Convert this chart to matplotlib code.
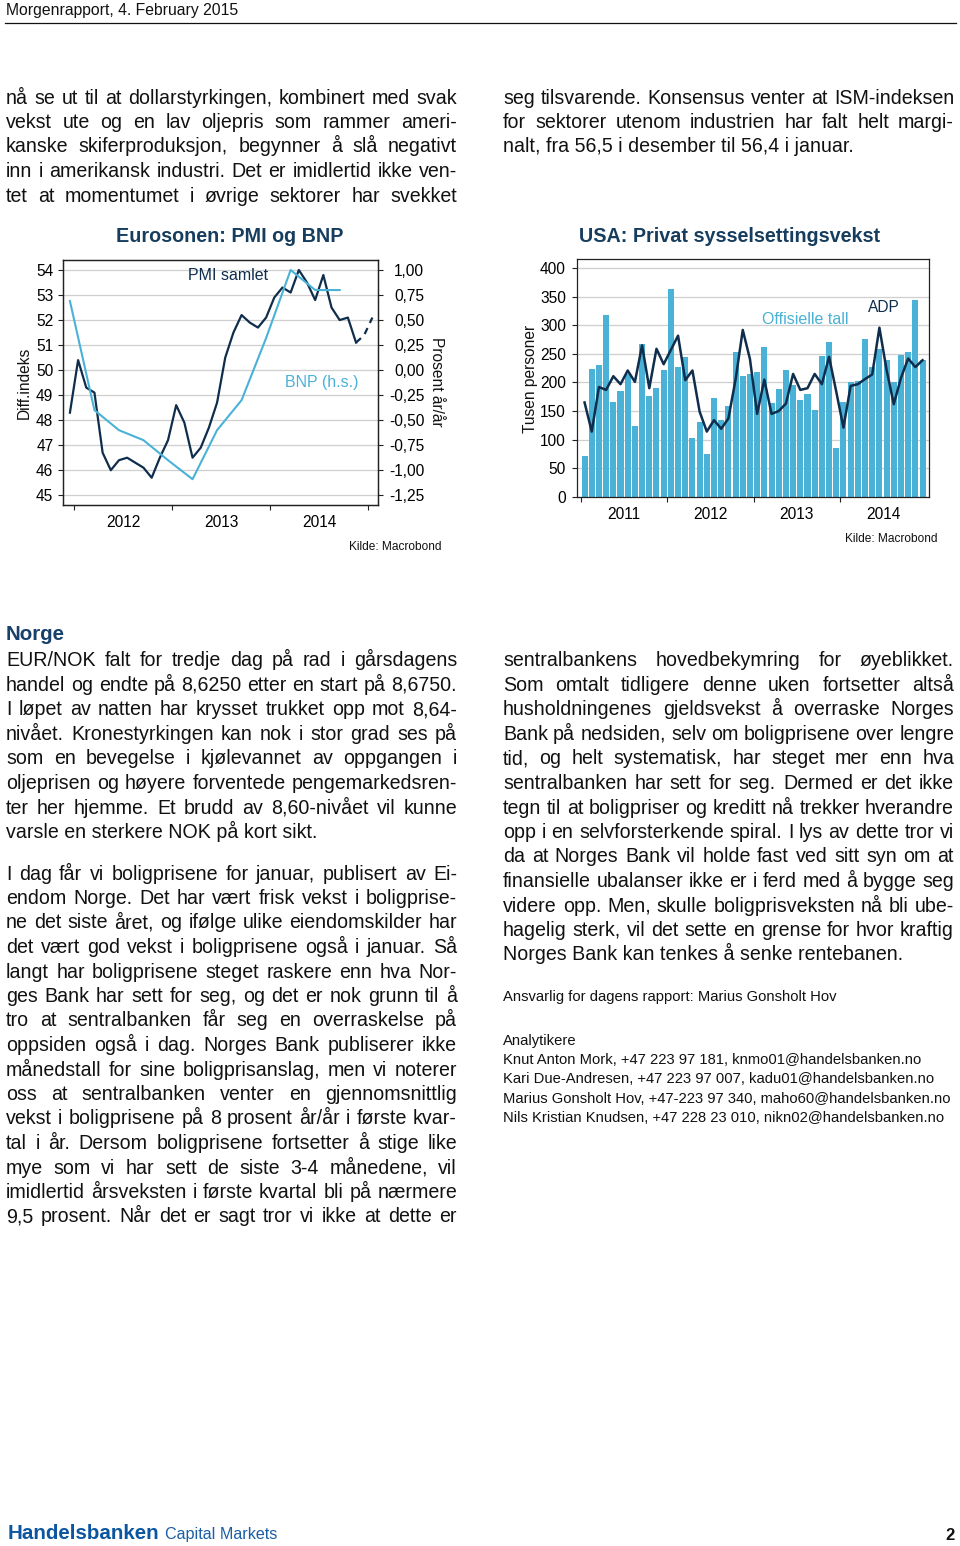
import numpy as np
import matplotlib
matplotlib.use('Agg')
import matplotlib.pyplot as plt
from matplotlib.lines import Line2D

plt.rcParams['font.family'] = ['Liberation Sans', 'DejaVu Sans']

W, H = 960, 1546
NAVY = '#0f2d4c'
LIGHT = '#4ab2d6'
TITLE = '#173d5e'
SPINE = '#222222'
GRID = '#cfcfcf'

# ---------------- data ----------------
# Eurozone composite PMI, monthly Dec 2011 - Nov 2014
pmi_samlet = [48.3, 50.4, 49.3, 49.1, 46.7, 46.0, 46.4, 46.5, 46.3, 46.1, 45.7, 46.5,
              47.2, 48.6, 47.9, 46.5, 46.9, 47.7, 48.7, 50.5, 51.5, 52.2, 51.9, 51.7,
              52.1, 52.9, 53.3, 53.1, 54.0, 53.5, 52.8, 53.8, 52.5, 52.0, 52.1, 51.1]
# preliminary: Dec 2014, Jan 2015 (dashed)
pmi_prelim = [51.4, 52.1]
# Eurozone GDP y/y, quarterly Q4 2011 - Q3 2014 (right axis)
bnp_aar = [0.69, -0.40, -0.60, -0.70, -0.90, -1.09, -0.60, -0.30, 0.32, 1.00, 0.80, 0.80]
euro_years = ['2012', '2013', '2014']
euro_left_ticks = [45, 46, 47, 48, 49, 50, 51, 52, 53, 54]
euro_right_ticks = [-1.25, -1.00, -0.75, -0.50, -0.25, 0.00, 0.25, 0.50, 0.75, 1.00]

# US private employment growth, monthly Jan 2011 - Dec 2014 (thousands)
us_offisielle = [72, 223, 231, 319, 166, 185, 214, 124, 267, 176, 190, 221,
                 363, 227, 245, 102, 130, 74, 172, 135, 159, 254, 211, 214,
                 219, 262, 164, 188, 221, 195, 169, 179, 152, 247, 271, 86,
                 166, 200, 202, 277, 227, 259, 239, 200, 249, 254, 345, 239]
us_adp = [165, 114, 192, 187, 211, 197, 221, 201, 265, 190, 259, 232,
          257, 282, 204, 221, 149, 114, 134, 119, 137, 205, 292, 241,
          145, 205, 145, 150, 163, 215, 187, 190, 215, 197, 245, 184,
          121, 194, 197, 206, 214, 296, 222, 162, 208, 242, 227, 239]
us_years = ['2011', '2012', '2013', '2014']
us_ticks = [0, 50, 100, 150, 200, 250, 300, 350, 400]

# ---------------- text ----------------
left_top = [
    "nå se ut til at dollarstyrkingen, kombinert med svak",
    "vekst ute og en lav oljepris som rammer ameri-",
    "kanske skiferproduksjon, begynner å slå negativt",
    "inn i amerikansk industri. Det er imidlertid ikke ven-",
    "tet at momentumet i øvrige sektorer har svekket",
]
right_top = [
    "seg tilsvarende. Konsensus venter at ISM-indeksen",
    "for sektorer utenom industrien har falt helt margi-",
    "nalt, fra 56,5 i desember til 56,4 i januar.",
]
norge_p1 = [
    "EUR/NOK falt for tredje dag på rad i gårsdagens",
    "handel og endte på 8,6250 etter en start på 8,6750.",
    "I løpet av natten har krysset trukket opp mot 8,64-",
    "nivået. Kronestyrkingen kan nok i stor grad ses på",
    "som en bevegelse i kjølevannet av oppgangen i",
    "oljeprisen og høyere forventede pengemarkedsren-",
    "ter her hjemme. Et brudd av 8,60-nivået vil kunne",
    "varsle en sterkere NOK på kort sikt.",
]
norge_p2 = [
    "I dag får vi boligprisene for januar, publisert av Ei-",
    "endom Norge. Det har vært frisk vekst i boligprise-",
    "ne det siste året, og ifølge ulike eiendomskilder har",
    "det vært god vekst i boligprisene også i januar. Så",
    "langt har boligprisene steget raskere enn hva Nor-",
    "ges Bank har sett for seg, og det er nok grunn til å",
    "tro at sentralbanken får seg en overraskelse på",
    "oppsiden også i dag. Norges Bank publiserer ikke",
    "månedstall for sine boligprisanslag, men vi noterer",
    "oss at sentralbanken venter en gjennomsnittlig",
    "vekst i boligprisene på 8 prosent år/år i første kvar-",
    "tal i år. Dersom boligprisene fortsetter å stige like",
    "mye som vi har sett de siste 3-4 månedene, vil",
    "imidlertid årsveksten i første kvartal bli på nærmere",
    "9,5 prosent. Når det er sagt tror vi ikke at dette er",
]
right_low = [
    "sentralbankens hovedbekymring for øyeblikket.",
    "Som omtalt tidligere denne uken fortsetter altså",
    "husholdningenes gjeldsvekst å overraske Norges",
    "Bank på nedsiden, selv om boligprisene over lengre",
    "tid, og helt systematisk, har steget mer enn hva",
    "sentralbanken har sett for seg. Dermed er det ikke",
    "tegn til at boligpriser og kreditt nå trekker hverandre",
    "opp i en selvforsterkende spiral. I lys av dette tror vi",
    "da at Norges Bank vil holde fast ved sitt syn om at",
    "finansielle ubalanser ikke er i ferd med å bygge seg",
    "videre opp. Men, skulle boligprisveksten nå bli ube-",
    "hagelig sterk, vil det sette en grense for hvor kraftig",
    "Norges Bank kan tenkes å senke rentebanen.",
]
contacts = [
    "Knut Anton Mork, +47 223 97 181, knmo01@handelsbanken.no",
    "Kari Due-Andresen, +47 223 97 007, kadu01@handelsbanken.no",
    "Marius Gonsholt Hov, +47-223 97 340, maho60@handelsbanken.no",
    "Nils Kristian Knudsen, +47 228 23 010, nikn02@handelsbanken.no",
]

fig = plt.figure(figsize=(W / 100, H / 100), dpi=100)
fig.patch.set_facecolor('white')
renderer = fig.canvas.get_renderer()


def fx(x):
    return x / W


def fy(y):
    return 1 - y / H


def put(x, y, s, size, **kw):
    kw.setdefault('color', '#111111')
    return fig.text(fx(x), fy(y), s, fontsize=size, **kw)


def text_width(s, size, weight='normal'):
    t = fig.text(0, 0, s, fontsize=size, fontweight=weight)
    w = t.get_window_extent(renderer=renderer).width
    t.remove()
    return w


BODY = 14.1
LS = 24.5


def paragraph(lines, x0, x1, y0, justify_last=False, size=BODY):
    for i, line in enumerate(lines):
        y = y0 + i * LS
        last = (i == len(lines) - 1) and not justify_last
        words = line.split(' ')
        if last or len(words) == 1:
            put(x0, y, line, size, va='baseline', ha='left')
            continue
        widths = [text_width(w, size) for w in words]
        gap = (x1 - x0 - sum(widths)) / (len(words) - 1)
        x = x0
        for w, wd in zip(words, widths):
            put(x, y, w, size, va='baseline', ha='left')
            x += wd + gap


def style_spines(ax):
    for s in ax.spines.values():
        s.set_color(SPINE)
        s.set_linewidth(0.9)


# ---------------- Eurozone chart ----------------
ax1 = fig.add_axes([fx(63.3), fy(505), (377.7 - 63.3) / W, (505 - 260) / H])
ax2 = ax1.twinx()
lo, hi = 44.61, 54.40
ax1.set_xlim(-1.31, 37.15)
ax1.set_ylim(lo, hi)
ax2.set_ylim((lo - 50) / 4, (hi - 50) / 4)

x_pmi = np.arange(len(pmi_samlet)) - 0.5
x_tail = np.arange(len(pmi_samlet) - 1, len(pmi_samlet) + len(pmi_prelim)) - 0.5
x_bnp = np.arange(len(bnp_aar)) * 3 - 0.5

ax1.plot(x_pmi, pmi_samlet, color=NAVY, lw=1.6, zorder=3)
ax1.plot(x_tail, [pmi_samlet[-1]] + pmi_prelim, color=NAVY, lw=1.6,
         linestyle=(0, (3, 2.5)), zorder=3)
ax2.plot(x_bnp, bnp_aar, color=LIGHT, lw=1.5, zorder=3)

ax1.set_yticks(euro_left_ticks)
ax1.set_yticklabels([str(v) for v in euro_left_ticks])
ax1.yaxis.grid(True, color=GRID, lw=0.9)
ax1.set_axisbelow(True)
ax2.set_yticks(euro_right_ticks)
ax2.set_yticklabels([f"{v:.2f}".replace('.', ',') for v in euro_right_ticks], ha='right')
ax1.set_xticks([0, 12, 24, 36])
ax1.set_xticklabels([])
ax1.set_xticks([6, 18, 30], minor=True)
ax1.set_xticklabels(euro_years, minor=True)
ax1.tick_params(axis='x', which='major', length=3.6, width=0.8, color=SPINE)
ax1.tick_params(axis='x', which='minor', length=0, pad=7.0, labelsize=11.2)
ax1.tick_params(axis='y', length=3.6, width=0.8, pad=3.6, labelsize=11.2, color=SPINE)
ax2.tick_params(axis='y', length=3.6, width=0.8, pad=29.9, labelsize=11.2, color=SPINE)
style_spines(ax1)
style_spines(ax2)

put(229.3, 237, "Eurosonen: PMI og BNP", 14.2, ha='center', va='center',
    fontweight='bold', color=TITLE)
put(228.3, 275, "PMI samlet", 11.5, ha='center', va='center', color=NAVY)
put(322, 383, "BNP (h.s.)", 11.5, ha='center', va='center', color=LIGHT)
put(24, 383, "Diff.indeks", 11.2, ha='center', va='center', rotation=90)
put(437, 382, "Prosent år/år", 11.2, ha='center', va='center', rotation=270)
put(441.7, 546.5, "Kilde: Macrobond", 8.6, ha='right', va='center')

# ---------------- US chart ----------------
ax3 = fig.add_axes([fx(577.3), fy(497.3), (929.3 - 577.3) / W, (497.3 - 259.3) / H])
x_us = np.arange(len(us_offisielle)) + 0.5
ax3.bar(x_us, us_offisielle, width=0.84, color=LIGHT, zorder=2)
ax3.plot(x_us, us_adp, color=NAVY, lw=1.8, zorder=3)
ax3.set_xlim(-0.51, 48.44)
ax3.set_ylim(-1.05, 415.7)
ax3.set_yticks(us_ticks)
ax3.set_yticklabels([str(v) for v in us_ticks])
ax3.yaxis.grid(True, color=GRID, lw=0.9)
ax3.set_axisbelow(True)
ax3.set_xticks([0, 12, 24, 36])
ax3.set_xticklabels([])
ax3.set_xticks([6, 18, 30, 42], minor=True)
ax3.set_xticklabels(us_years, minor=True)
ax3.tick_params(axis='x', which='major', length=3.4, width=0.8, color=SPINE)
ax3.tick_params(axis='x', which='minor', length=0, pad=7.0, labelsize=11.2)
ax3.tick_params(axis='y', length=3.4, width=0.8, pad=4.75, labelsize=11.2, color=SPINE)
style_spines(ax3)

put(730, 237, "USA: Privat sysselsettingsvekst", 14.2, ha='center', va='center',
    fontweight='bold', color=TITLE)
put(805, 319, "Offisielle tall", 11.5, ha='center', va='center', color=LIGHT)
put(884, 308, "ADP", 11.2, ha='center', va='center', color=NAVY)
put(531, 379, "Tusen personer", 11.2, ha='center', va='center', rotation=90)
put(937.3, 538.5, "Kilde: Macrobond", 8.6, ha='right', va='center')

# ---------------- page text ----------------
put(6, 14.5, "Morgenrapport, 4. February 2015", 11.3, va='baseline')
fig.add_artist(Line2D([fx(5), fx(956)], [fy(22.5), fy(22.5)], color='#111111', lw=0.9))

paragraph(left_top, 6, 457, 103.5, justify_last=True)
paragraph(right_top, 503, 954, 103.5)

put(6, 640.5, "Norge", 14.8, va='baseline', fontweight='bold', color='#17406b')
paragraph(norge_p1, 6, 457, 666.5)
paragraph(norge_p2, 6, 457, 879.5, justify_last=True)
paragraph(right_low, 503, 954, 666.5)

put(503, 1001.5, "Ansvarlig for dagens rapport: Marius Gonsholt Hov", 10.65, va='baseline')
put(503, 1045.5, "Analytikere", 10.65, va='baseline')
for i, c in enumerate(contacts):
    put(503, 1064 + i * 19.4, c, 10.65, va='baseline')

put(8, 1539, "Handelsbanken", 14.8, va='baseline', fontweight='bold', color='#0c56a0')
put(165, 1539, "Capital Markets", 11.6, va='baseline', color='#1a5ea6')
put(950, 1540, "2", 12, va='baseline', ha='center', fontweight='bold')

fig.savefig('out.png', dpi=100)
